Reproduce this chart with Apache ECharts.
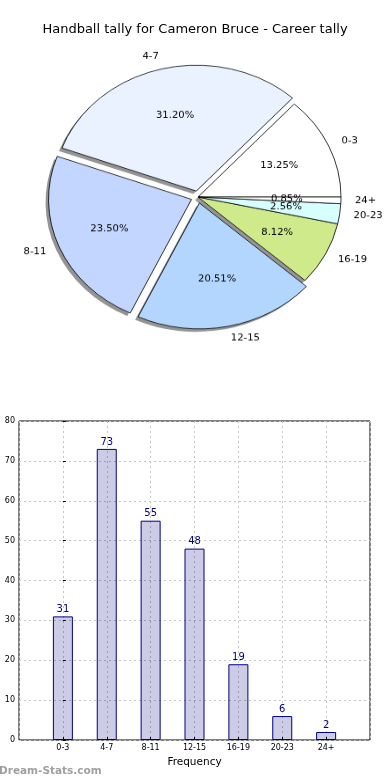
<!DOCTYPE html>
<html>
<head>
<meta charset="utf-8">
<script src="https://cdn.jsdelivr.net/npm/echarts@6/dist/echarts.min.js"></script>
<style>
  html, body { margin: 0; padding: 0; background: #fff; }
  #main { position: absolute; left: 0; top: 0; width: 390px; height: 780px; }
  #pie { position: absolute; left: 0; top: 0; width: 390px; height: 400px;
         transform-origin: 198px 197px; transform: scaleY(0.88); }
</style>
</head>
<body>
<div id="main"></div>
<div id="pie"></div>
<script>
// ---- data ----
const titleText = 'Handball tally for Cameron Bruce - Career tally';
const categories = ['0-3', '4-7', '8-11', '12-15', '16-19', '20-23', '24+'];
const frequency = [31, 73, 55, 48, 19, 6, 2];
const sliceColors = ['#ffffff', '#eaf2ff', '#c3d6ff', '#b3d6ff', '#cfea8a', '#d8ffff', '#ffffff'];
const exploded = [false, true, true, true, false, false, false];
const yTicks = [0, 10, 20, 30, 40, 50, 60, 70, 80];
const xAxisName = 'Frequency';
const watermark = 'Dream-Stats.com';

const FONT = 'DejaVu Sans';
const total = frequency.reduce((a, b) => a + b, 0);

// ---- bar chart (and title, watermark) ----
const main = echarts.init(document.getElementById('main'), null, { renderer: 'canvas' });
main.setOption({
  animation: false,
  title: [
    { text: titleText, left: 'center', top: 23, padding: 0,
      textStyle: { fontFamily: FONT, fontSize: 13, fontWeight: 'normal', color: '#000' } },
    { text: watermark, left: -1, top: 766, padding: 0,
      textStyle: { fontFamily: FONT, fontSize: 10.5, fontWeight: 'bold', color: '#a0a0a0' } }
  ],
  grid: { left: 19, top: 421, width: 351, height: 319, show: true,
          borderColor: '#000', borderWidth: 1, containLabel: false },
  xAxis: {
    type: 'value', min: -1, max: categories.length, interval: 1,
    axisLine: { show: false },
    axisTick: { show: true, inside: true, length: 3, lineStyle: { color: '#000' } },
    axisLabel: { fontFamily: FONT, fontSize: 8, color: '#000', margin: 4,
                 showMinLabel: false, showMaxLabel: false,
                 formatter: v => (categories[v] !== undefined ? categories[v] : '') },
    splitLine: { show: true, lineStyle: { color: '#c4c4c4', type: [2, 3], width: 1 } },
    name: xAxisName, nameLocation: 'middle', nameGap: 17,
    nameTextStyle: { fontFamily: FONT, fontSize: 10.5, color: '#000' }
  },
  yAxis: {
    type: 'value', min: yTicks[0], max: yTicks[yTicks.length - 1], interval: yTicks[1] - yTicks[0],
    axisLine: { show: false },
    axisTick: { show: true, inside: true, length: 3, lineStyle: { color: '#000' } },
    axisLabel: { fontFamily: FONT, fontSize: 8, color: '#000', margin: 4 },
    splitLine: { show: true, lineStyle: { color: '#c4c4c4', type: [2, 3], width: 1 } }
  },
  series: [{
    type: 'bar',
    data: frequency.map((v, i) => [i, v]),
    barWidth: 20,
    itemStyle: { color: 'rgba(0,0,128,0.2)', borderColor: '#000080', borderWidth: 1 },
    label: { show: true, position: 'top', distance: 2, color: '#000080',
             fontFamily: FONT, fontSize: 10, formatter: p => p.value[1] },
    emphasis: { disabled: true }
  }]
});

// ---- pie chart ----
const R = 143;
const CX = 198, CY = 197;
const pie = echarts.init(document.getElementById('pie'), null, { renderer: 'canvas' });
const mk = (withColor) => categories.map((c, i) => {
  const d = { name: c, value: frequency[i], selected: exploded[i] };
  if (withColor) d.itemStyle = { color: sliceColors[i] };
  return d;
});
const common = {
  type: 'pie', startAngle: 0, clockwise: false,
  selectedMode: 'multiple', selectedOffset: 7,
  avoidLabelOverlap: false, minShowLabelAngle: 0,
  labelLayout: { hideOverlap: false },
  emphasis: { disabled: true }, silent: true
};
pie.setOption({
  animation: false,
  series: [
    // drop shadows (drawn beneath all wedges)
    Object.assign({}, common, {
      center: [CX - 3, CY + 3.4], radius: R, z: 1,
      data: mk(false),
      itemStyle: { color: 'rgba(0,0,0,0.42)', borderWidth: 0 },
      label: { show: false }, labelLine: { show: false }
    }),
    // wedges with category labels
    Object.assign({}, common, {
      center: [CX, CY], radius: R, z: 2,
      data: mk(true),
      itemStyle: { borderColor: '#000', borderWidth: 0.8 },
      label: { show: true, position: 'outside', formatter: '{b}',
               fontFamily: FONT, fontSize: 10, color: '#000',
               distanceToLabelLine: 0, bleedMargin: 0 },
      labelLine: { show: false, length: 14, length2: 0 }
    }),
    // percentage labels at 0.6 R
    Object.assign({}, common, {
      center: [CX, CY], radius: R * 1.2, z: 5,
      data: mk(false),
      itemStyle: { color: 'rgba(0,0,0,0)', borderWidth: 0 },
      label: { show: true, position: 'inside', fontFamily: FONT, fontSize: 10, color: '#000',
               formatter: p => (p.value / total * 100).toFixed(2) + '%' },
      labelLine: { show: false }
    })
  ]
});
</script>
</body>
</html>
